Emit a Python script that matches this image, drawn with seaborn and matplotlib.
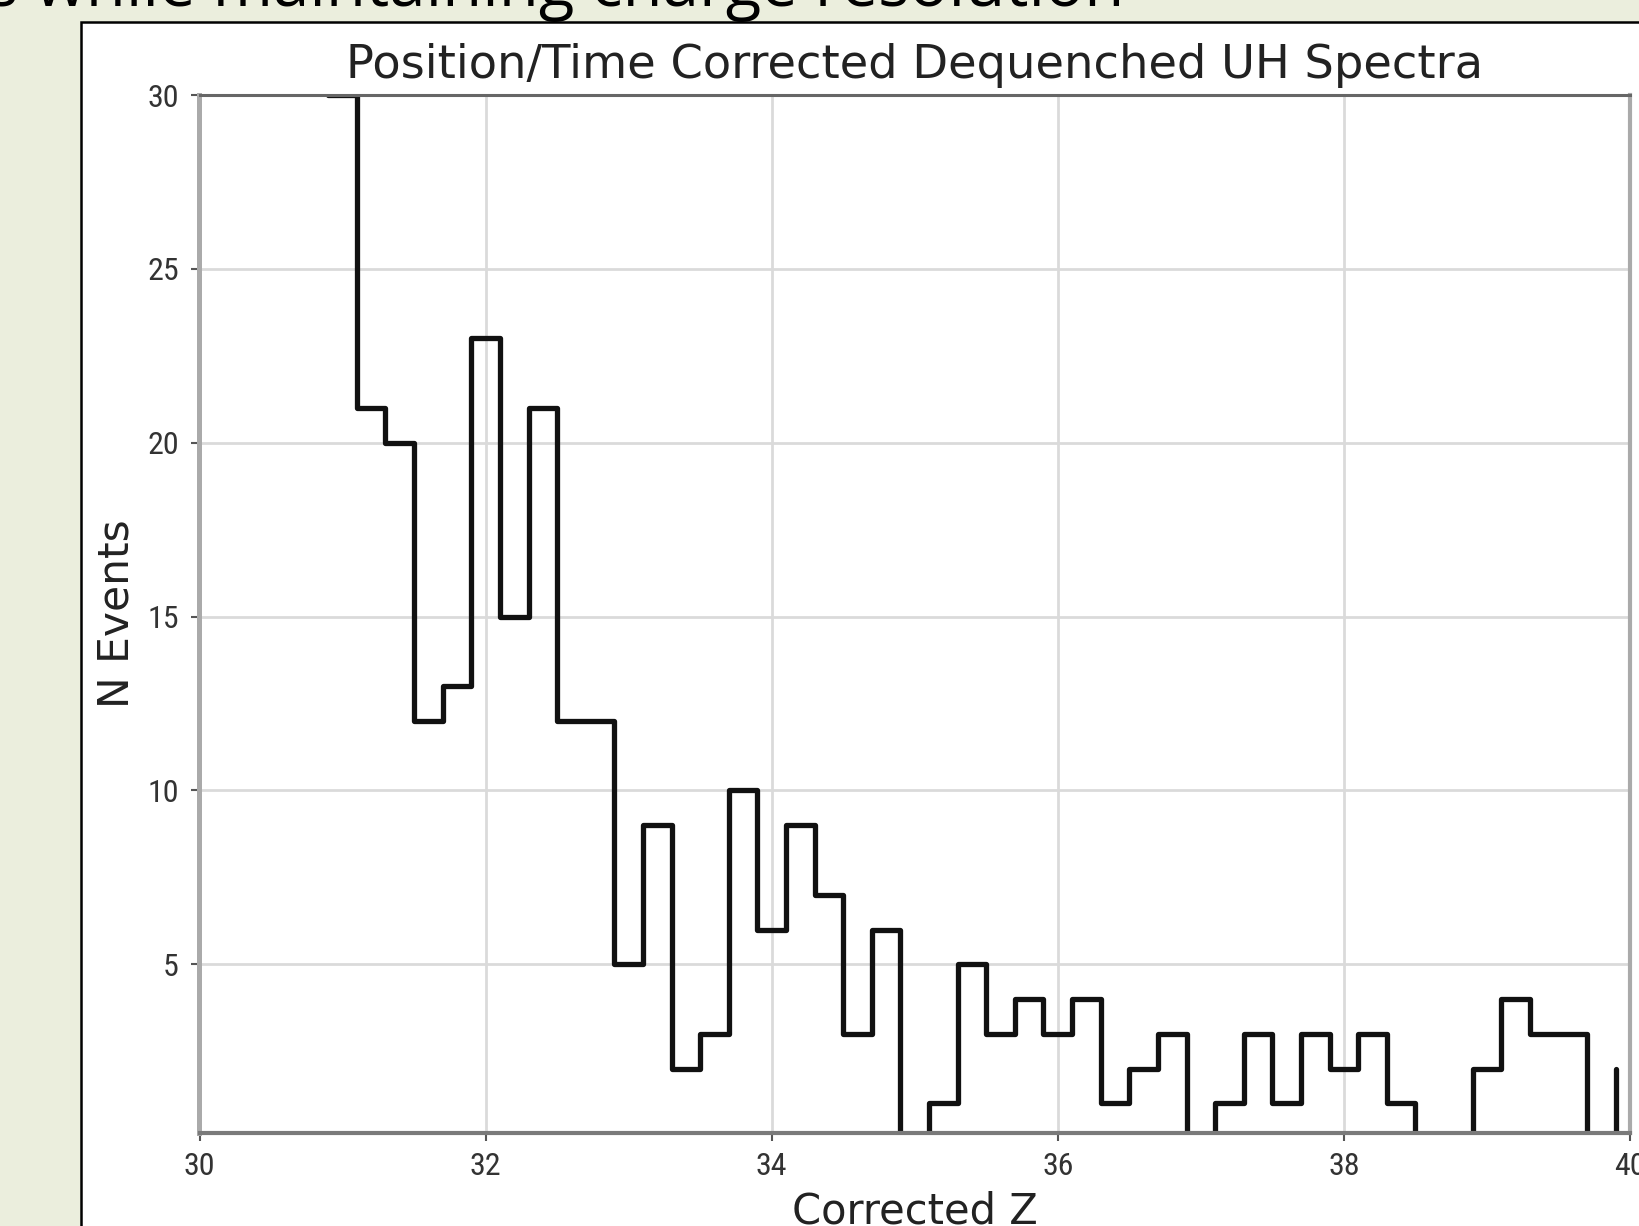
import numpy as np
import pandas as pd
import matplotlib
matplotlib.use('Agg')
import matplotlib.pyplot as plt
import matplotlib.font_manager as fm
from matplotlib.patches import Rectangle
import seaborn as sns

# counts per 0.2 wide bin (left edge of each bin)
bin_left = [30.9, 31.1, 31.3, 31.5, 31.7, 31.9, 32.1, 32.3, 32.5, 32.7,
            32.9, 33.1, 33.3, 33.5, 33.7, 33.9, 34.1, 34.3, 34.5, 34.7,
            34.9, 35.1, 35.3, 35.5, 35.7, 35.9, 36.1, 36.3, 36.5, 36.7,
            36.9, 37.1, 37.3, 37.5, 37.7, 37.9, 38.1, 38.3, 38.5, 38.7,
            38.9, 39.1, 39.3, 39.5, 39.7, 39.9]
counts = [30, 21, 20, 12, 13, 23, 15, 21, 12, 12,
          5, 9, 2, 3, 10, 6, 9, 7, 3, 6,
          0, 1, 5, 3, 4, 3, 4, 1, 2, 3,
          0, 1, 3, 1, 3, 2, 3, 1, 0, 0,
          2, 4, 3, 3, 0, 2]

title = 'Position/Time Corrected Dequenched UH Spectra'
x_label = 'Corrected Z'
y_label = 'N Events'
x_ticks = [30, 32, 34, 36, 38, 40]
y_ticks = [5, 10, 15, 20, 25, 30]
slide_text = 's while maintaining charge resolution'

W, H = 1640, 1226

sns.set_style('whitegrid')
plt.rcParams['font.family'] = ['DejaVu Sans']

# tick labels in the screenshot are narrow, use a narrow face if there is one
names = {f.name for f in fm.fontManager.ttflist}
tick_font, tick_size = 'DejaVu Sans', 20
for cand in ['Liberation Sans Narrow', 'Roboto Condensed', 'DejaVu Sans Condensed']:
    if cand in names:
        tick_font, tick_size = cand, 23
        break

fig = plt.figure(figsize=(W / 100, H / 100), dpi=100, facecolor='#ebeedd')

# white panel of the pasted chart
panel = Rectangle((81 / W, -0.1), 2, 1.1 - 22 / H, transform=fig.transFigure,
                  facecolor='white', edgecolor='black', linewidth=1.8, zorder=-1)
fig.patches.append(panel)

fig.text(1124 / W, 1 - 6 / H, slide_text, ha='right', va='baseline',
         fontsize=47, family='Open Sans', color='black')

ax_l, ax_r, ax_t, ax_b = 199.5, 1630, 95, 1133
ax = fig.add_axes([ax_l / W, 1 - ax_b / H, (ax_r - ax_l) / W, (ax_b - ax_t) / H])
ax.set_facecolor('white')

df = pd.DataFrame({'z': bin_left, 'n': counts})
sns.lineplot(data=df, x='z', y='n', drawstyle='steps-post', color='#111111',
             linewidth=3.8, ax=ax)

ax.set_xlim(30, 40)
ax.set_ylim(0.15, 30)
ax.set_xticks(x_ticks)
ax.set_yticks(y_ticks)
ax.grid(True, color='#dadada', linewidth=2.0)
ax.set_axisbelow(True)

ax.tick_params(bottom=True, left=True, direction='out', length=5.8, width=1.5,
               color='#555555', labelcolor='#333333', labelsize=tick_size,
               labelfontfamily=tick_font)
ax.tick_params(axis='y', pad=9)
ax.tick_params(axis='x', pad=8)

for side, col, lw in [('top', '#666666', 2.2), ('bottom', '#7a7a7a', 3.0),
                      ('left', '#aaaaaa', 3.6), ('right', '#aaaaaa', 3.0)]:
    ax.spines[side].set_visible(True)
    ax.spines[side].set_color(col)
    ax.spines[side].set_linewidth(lw)

ax.text(0.5, 1 + (ax_t - 78) / (ax_b - ax_t), title, transform=ax.transAxes,
        ha='center', va='baseline', fontsize=33.4, color='#222222')
ax.set_xlabel(x_label, fontsize=30, color='#222222')
ax.xaxis.set_label_coords(0.5, -(1190 - ax_b) / (ax_b - ax_t))
ax.set_ylabel(y_label, fontsize=30.5, color='#222222')
ax.yaxis.set_label_coords(-(ax_l - 138) / (ax_r - ax_l), 0.5)

fig.savefig('out.png', dpi=100, facecolor=fig.get_facecolor())
